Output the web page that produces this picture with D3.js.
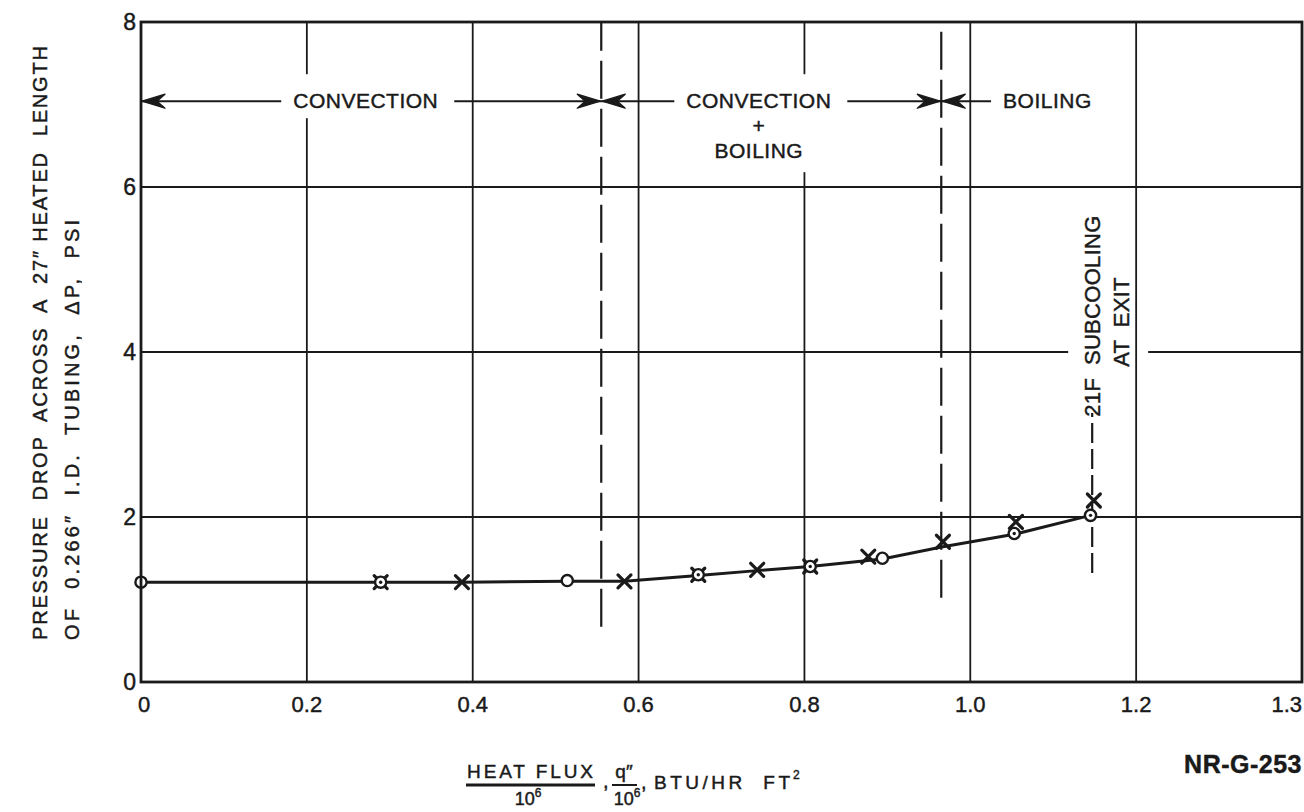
<!DOCTYPE html>
<html>
<head>
<meta charset="utf-8">
<script src="https://cdn.jsdelivr.net/npm/d3@7"></script>
<style>
  html, body { margin: 0; padding: 0; background: #fff; }
  svg { display: block; }
  text { font-family: "Liberation Sans", Arial, sans-serif; fill: #1a1a1a; stroke: #1a1a1a; stroke-width: 0.45; }
</style>
</head>
<body>
<svg id="chart" width="1304" height="812"></svg>
<script>
// Heat flux (q"/1e6, BTU/hr ft^2) and pressure drop (psi) readings
const circleQ  = [0.000, 0.289, 0.514, 0.672, 0.807, 0.894, 1.053, 1.145];
const circleDP = [1.21, 1.21, 1.23, 1.30, 1.40, 1.50, 1.80, 2.02];
const circleDot = [0, 1, 0, 1, 1, 0, 1, 1];
const crossQ  = [0.289, 0.387, 0.583, 0.672, 0.743, 0.807, 0.877, 0.967, 1.055, 1.149];
const crossDP = [1.21, 1.21, 1.22, 1.30, 1.36, 1.40, 1.52, 1.70, 1.94, 2.20];

// Faired curve through the data
const curveQ  = [0.000, 0.289, 0.387, 0.514, 0.583, 0.672, 0.743, 0.807, 0.894, 0.967, 1.053, 1.145];
const curveDP = [1.21, 1.21, 1.21, 1.22, 1.22, 1.29, 1.35, 1.40, 1.49, 1.64, 1.79, 2.02];

// Axis ticks
const xTicks = [0, 0.2, 0.4, 0.6, 0.8, 1.0, 1.2];
const xTickLabels = ["0", "0.2", "0.4", "0.6", "0.8", "1.0", "1.2"];
const xEndLabel = "1.3";
const yTicks = [0, 2, 4, 6, 8];

// Flow regime boundaries and labels
const regimeBounds = [0.555, 0.965];
const regimeBoundLow = [0.67, 1.02];
const regimeArrowDP = 7.04;
const regimeArrowEnd = 1.028;
const regimeLabels = [["CONVECTION"], ["CONVECTION", "+", "BOILING"], ["BOILING"]];
const regimeLabelQ = [0.271, 0.745, 1.093];
const subcoolQ = 1.147;
const subcoolDPRange = [1.32, 3.26];
const subcoolLines = ["21F  SUBCOOLING", "AT  EXIT"];

const ink = "#1a1a1a";
const svg = d3.select("#chart");

const x = d3.scaleLinear().domain([0, 1.4]).range([141, 1302]);
const y = d3.scaleLinear().domain([0, 8]).range([682, 22]);

// Horizontal grid
svg.append("g").selectAll("line").data(yTicks.filter(v => v > 0 && v < 8)).join("line")
  .attr("x1", x(0)).attr("x2", x(1.4)).attr("y1", d => y(d)).attr("y2", d => y(d))
  .attr("stroke", ink).attr("stroke-width", 1.8);

// Mask behind the rotated subcooling note (breaks the horizontal grid only)
const maskNote = svg.append("rect").attr("fill", "#fff");

// Vertical grid
svg.append("g").selectAll("line").data(xTicks.filter(v => v > 0)).join("line")
  .attr("x1", d => x(d)).attr("x2", d => x(d)).attr("y1", y(0)).attr("y2", y(8))
  .attr("stroke", ink).attr("stroke-width", 1.8);

// Regime boundary dashed lines
svg.append("g").selectAll("line").data(regimeBounds).join("line")
  .attr("x1", d => x(d)).attr("x2", d => x(d))
  .attr("y1", (d, i) => y(regimeBoundLow[i])).attr("y2", y(8))
  .attr("stroke", ink).attr("stroke-width", 2.2)
  .attr("stroke-dasharray", "38,10");

// Arrow line across the top
const ay = y(regimeArrowDP);
const arrowG = svg.append("g");
arrowG.append("line").attr("x1", x(0)).attr("x2", x(regimeArrowEnd)).attr("y1", ay).attr("y2", ay)
  .attr("stroke", ink).attr("stroke-width", 2);

function arrowHead(tipX, dir) {
  // dir = +1 points right, -1 points left
  const p = d3.path();
  p.moveTo(tipX, ay);
  p.lineTo(tipX - dir * 23, ay - 7);
  p.lineTo(tipX - dir * 15, ay);
  p.lineTo(tipX - dir * 23, ay + 7);
  p.closePath();
  arrowG.append("path").attr("d", p.toString()).attr("fill", ink)
    .attr("stroke", ink).attr("stroke-width", 1.3).attr("stroke-linejoin", "round");
}
arrowHead(x(0) + 1, -1);
regimeBounds.forEach(b => { arrowHead(x(b) - 1, 1); arrowHead(x(b) + 1, -1); });

// Regime labels with white backing
const labelG = svg.append("g");
regimeLabels.forEach((lines, i) => {
  const g = labelG.append("g");
  const bg = g.append("rect").attr("fill", "#fff").attr("stroke", "none");
  const cx = x(regimeLabelQ[i]);
  lines.forEach((t, j) => {
    g.append("text").attr("x", cx).attr("y", ay + 7 + j * 25)
      .attr("text-anchor", "middle").attr("font-size", 21).attr("letter-spacing", 0.5)
      .text(t);
  });
  const bb = g.node().getBBox();
  const top = ay - 27;
  const bottom = lines.length > 1 ? bb.y + bb.height + 10 : ay + 17;
  bg.attr("x", bb.x - 12).attr("y", top)
    .attr("width", bb.width + 28).attr("height", bottom - top);
});

// Subcooling note (rotated) and its dashed leader
const sx = x(subcoolQ);
const noteTextG = svg.append("g");
subcoolLines.forEach((t, j) => {
  const tx = sx + 8 + j * 29;
  const ty = 316 + j * 6;
  noteTextG.append("text").attr("transform", `translate(${tx},${ty}) rotate(-90)`)
    .attr("text-anchor", "middle").attr("font-size", 22).attr("letter-spacing", 0.3)
    .attr("xml:space", "preserve").text(t);
});
const nb = noteTextG.node().getBBox();
maskNote.attr("x", nb.x - 12).attr("y", nb.y - 4)
  .attr("width", nb.width + 26).attr("height", nb.height + 8);
svg.append("line").attr("x1", sx).attr("x2", sx)
  .attr("y1", y(subcoolDPRange[0])).attr("y2", y(subcoolDPRange[1]))
  .attr("stroke", ink).attr("stroke-width", 2.2).attr("stroke-dasharray", "20,6");

// Data curve
const curve = d3.line().x(d => x(d[0])).y(d => y(d[1]));
svg.append("path").datum(curveQ.map((q, i) => [q, curveDP[i]]))
  .attr("d", curve).attr("fill", "none").attr("stroke", ink).attr("stroke-width", 3);

// Cross markers
const crossG = svg.append("g");
crossQ.forEach((q, i) => {
  const cx = x(q), cy = y(crossDP[i]), s = 6.5;
  crossG.append("path")
    .attr("d", `M${cx - s},${cy - s}L${cx + s},${cy + s}M${cx - s},${cy + s}L${cx + s},${cy - s}`)
    .attr("stroke", ink).attr("stroke-width", 3.2).attr("stroke-linecap", "round");
});

// Circle markers
const circG = svg.append("g");
circleQ.forEach((q, i) => {
  const cx = x(q), cy = y(circleDP[i]);
  circG.append("circle").attr("cx", cx).attr("cy", cy).attr("r", 5.6)
    .attr("fill", "#fff").attr("stroke", ink).attr("stroke-width", 2.4);
  if (circleDot[i]) {
    circG.append("circle").attr("cx", cx).attr("cy", cy).attr("r", 1.7).attr("fill", ink);
  }
});

// Frame
svg.append("rect").attr("x", x(0)).attr("y", y(8))
  .attr("width", x(1.4) - x(0)).attr("height", y(0) - y(8))
  .attr("fill", "none").attr("stroke", ink).attr("stroke-width", 2.8);

// Tick labels
svg.append("g").selectAll("text").data(yTicks).join("text")
  .attr("x", x(0) - 5).attr("y", d => y(d) + 8)
  .attr("text-anchor", "end").attr("font-size", 23)
  .text(d => d);
svg.append("g").selectAll("text").data(xTicks).join("text")
  .attr("x", d => x(d) + (d === 0 ? 3 : 0)).attr("y", y(0) + 30)
  .attr("text-anchor", "middle").attr("font-size", 22)
  .text((d, i) => xTickLabels[i]);
svg.append("text").attr("x", x(1.4)).attr("y", y(0) + 30)
  .attr("text-anchor", "end").attr("font-size", 22).text(xEndLabel);

// Y axis title
const yTitle = svg.append("g").attr("transform", "translate(0,640) rotate(-90)");
yTitle.append("text").attr("x", 0).attr("y", 47).attr("font-size", 20)
  .attr("textLength", 594).attr("lengthAdjust", "spacing")
  .attr("xml:space", "preserve").text("PRESSURE  DROP  ACROSS  A  27\u2033 HEATED  LENGTH");
yTitle.append("text").attr("x", 0).attr("y", 79).attr("font-size", 20)
  .attr("textLength", 420).attr("lengthAdjust", "spacing")
  .attr("xml:space", "preserve").text("OF  0.266\u2033  I.D.  TUBING,  \u0394P,  PSI");

// X axis title: HEAT FLUX / 10^6 , q" / 10^6 , BTU/HR FT^2
const xt = svg.append("g");
xt.append("text").attr("x", 467).attr("y", 778).attr("font-size", 19)
  .attr("textLength", 126).attr("lengthAdjust", "spacing").text("HEAT FLUX");
xt.append("line").attr("x1", 466).attr("x2", 595).attr("y1", 785).attr("y2", 785)
  .attr("stroke", ink).attr("stroke-width", 3);
xt.append("text").attr("x", 528).attr("y", 805).attr("text-anchor", "middle")
  .attr("font-size", 18).html('10<tspan dy="-8" font-size="12">6</tspan>');
xt.append("text").attr("x", 603).attr("y", 788).attr("font-size", 20).text(",");
xt.append("text").attr("x", 624).attr("y", 778).attr("text-anchor", "middle")
  .attr("font-size", 19).text("q\u2033");
xt.append("line").attr("x1", 612).attr("x2", 637).attr("y1", 785).attr("y2", 785)
  .attr("stroke", ink).attr("stroke-width", 2);
xt.append("text").attr("x", 627).attr("y", 805).attr("text-anchor", "middle")
  .attr("font-size", 18).html('10<tspan dy="-8" font-size="12">6</tspan>');
xt.append("text").attr("x", 641).attr("y", 789).attr("font-size", 20).text(",");
xt.append("text").attr("x", 654).attr("y", 789).attr("font-size", 19)
  .attr("textLength", 136).attr("lengthAdjust", "spacing")
  .attr("xml:space", "preserve").text("BTU/HR  FT");
xt.append("text").attr("x", 793).attr("y", 779).attr("font-size", 12).text("2");

// Drawing number
svg.append("text").attr("x", 1302).attr("y", 773).attr("text-anchor", "end")
  .attr("font-size", 25).attr("font-weight", "bold").attr("letter-spacing", 0.5)
  .text("NR-G-253");
</script>
</body>
</html>
